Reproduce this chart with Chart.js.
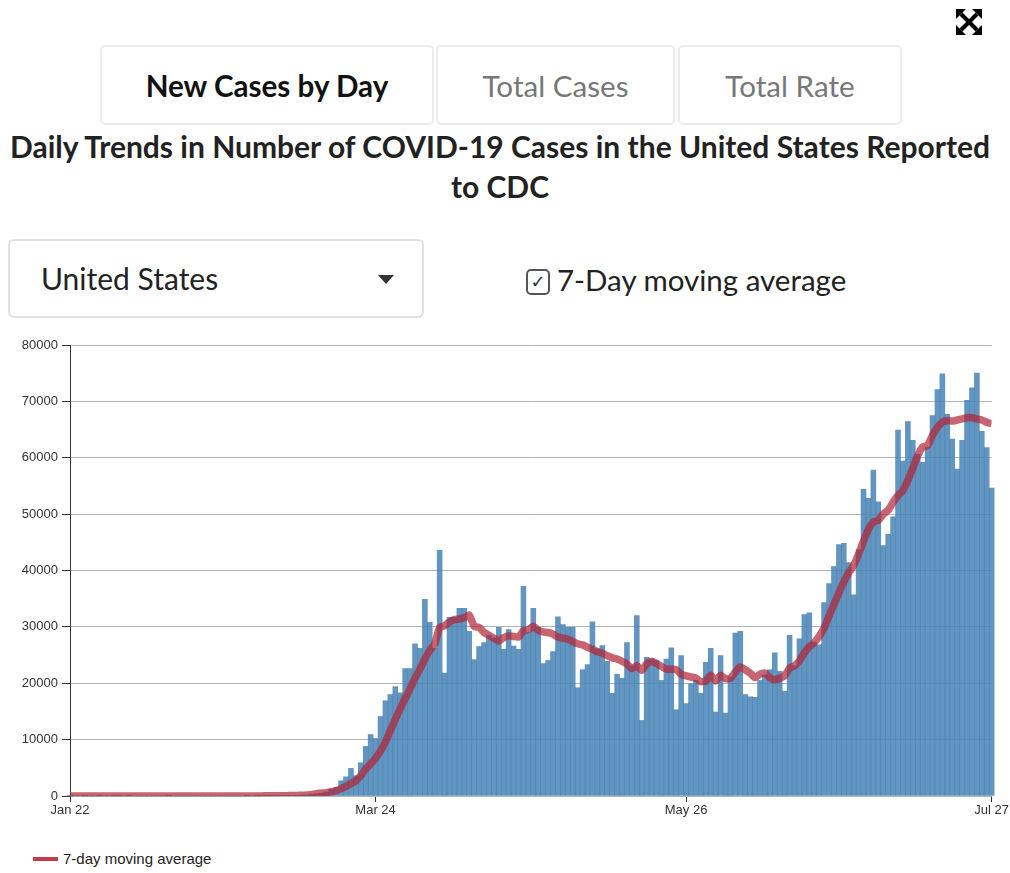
<!DOCTYPE html>
<html>
<head>
<meta charset="utf-8">
<script src="https://cdn.jsdelivr.net/npm/chart.js@4.4.1/dist/chart.umd.min.js"></script>
<style>
  body { margin: 0; width: 1010px; height: 873px; background: #fff; font-family: Lato, sans-serif; position: relative; overflow: hidden; }
  .tab { position: absolute; top: 45px; height: 76px; border: 2px solid #ececec; border-radius: 5px; box-sizing: content-box;
         display: flex; align-items: center; justify-content: center; font-size: 29.6px; color: #777; }
  .tab.on { color: #111; font-weight: bold; }
  #title { position: absolute; left: 0; top: 126px; width: 1000px; text-align: center; font-weight: bold; font-size: 30px; line-height: 40px; color: #222; }
  #sel { position: absolute; left: 8px; top: 239px; width: 412px; height: 75px; border: 2px solid #e0e0e0; border-radius: 6px; }
  #sel span { position: absolute; left: 31px; top: 19px; font-size: 30px; color: #222; }
  #caret { position: absolute; left: 368px; top: 34px; width: 0; height: 0; border-left: 8px solid transparent; border-right: 8px solid transparent; border-top: 9px solid #333; }
  #chk { position: absolute; left: 526px; top: 269px; width: 20px; height: 22px; border: 2px solid #555; border-radius: 5px;
         font-family: "DejaVu Sans"; font-size: 18px; font-weight: bold; line-height: 22px; text-align: center; color: #333; }
  #chklabel { position: absolute; left: 557px; top: 262px; font-size: 29.5px; color: #222; }
  #wrap { position: absolute; left: 0; top: 330px; width: 1010px; height: 500px; }
  #legend { position: absolute; left: 33px; top: 850px; font-family: "Liberation Sans", Arial, sans-serif; font-size: 15px; color: #222; }
  #legend i { display: inline-block; width: 25px; height: 4px; background: #bf4048; vertical-align: middle; margin-right: 5px; position: relative; top: -1px; }
  #expand { position: absolute; left: 954px; top: 7px; }
</style>
</head>
<body>
<svg id="expand" width="30" height="30" viewBox="0 0 30 30">
  <g stroke="#000" stroke-width="4" fill="none">
    <line x1="7" y1="7" x2="23" y2="23"/>
    <line x1="23" y1="7" x2="7" y2="23"/>
  </g>
  <g fill="#000">
    <polygon points="2,2 12,2 2,12"/>
    <polygon points="28,2 18,2 28,12"/>
    <polygon points="2,28 12,28 2,18"/>
    <polygon points="28,28 18,28 28,18"/>
  </g>
</svg>
<div class="tab on" style="left:100px;width:330px;">New Cases by Day</div>
<div class="tab" style="left:436px;width:235px;">Total Cases</div>
<div class="tab" style="left:678px;width:220px;">Total Rate</div>
<div id="title">Daily Trends in Number of COVID-19 Cases in the United States Reported<br>to CDC</div>
<div id="sel"><span>United States</span><div id="caret"></div></div>
<div id="chk">✓</div>
<div id="chklabel">7-Day moving average</div>
<div id="wrap"><canvas id="chart"></canvas></div>
<div id="legend"><i></i>7-day moving average</div>
<script>
// day 0 = Jan 22, day 187 = Jul 27
var tickDays = [0, 62, 125, 187];
var tickLabels = ['Jan 22', 'Mar 24', 'May 26', 'Jul 27'];

var newCases = [
  1,0,0,1,0,0,3,0,0,1,
  2,0,1,0,0,0,0,0,0,0,
  1,0,0,0,0,0,0,0,0,0,
  0,0,0,0,0,0,1,0,3,20,
  25,30,40,50,60,90,120,150,200,300,
  400,500,700,1200,1500,2700,3400,4900,3600,5900,
  8800,10900,10200,14100,16900,18000,19400,18300,22600,22600,
  27000,26200,34900,30800,26200,43600,21800,31700,31700,33300,
  33300,29200,24200,26500,27200,28500,28000,29900,26000,29500,
  26600,26000,37200,29000,33300,29900,23500,24000,25600,31800,
  30400,29900,29900,19200,22400,23300,30900,26100,26700,23900,
  18200,21600,20900,27200,23100,32000,13400,24600,24300,24000,
  20500,24300,26300,15300,24900,16400,19900,20500,18200,23700,
  26200,14900,24900,14700,21100,28900,29200,18000,17600,17500,
  20500,21500,22400,25400,22100,18600,28500,23100,27900,32200,
  32500,27300,26800,34300,37700,40700,44600,44800,41400,35700,
  43700,54400,52800,57800,52200,44400,46400,49500,64900,59400,
  66400,63100,60600,59200,61900,67500,72100,74900,67700,63300,
  58000,63100,70200,72400,75000,64700,61800,54600
];

var movingAvg = [
  0,0,0,0,0,1,1,1,1,1,
  1,1,1,1,1,0,0,0,0,0,
  0,0,0,0,0,0,0,0,0,0,
  0,0,0,0,0,0,0,1,1,20,
  30,30,40,50,60,80,100,130,170,220,
  400,500,600,750,950,1300,1700,2200,2700,3600,
  4800,5700,6700,8000,9600,11600,13600,15500,17300,19000,
  20900,22500,24300,25800,27000,29900,30200,30900,31300,31400,
  31600,32100,30100,29900,29000,28500,28000,27500,28100,28400,
  28300,28200,29300,29500,30100,29400,29100,29000,28700,28200,
  28000,27800,27400,27000,26800,26400,26000,25600,25300,24900,
  24500,24300,23900,23400,22600,23100,22300,23400,23900,23500,
  23000,22500,22500,22400,21600,21300,21100,20900,20300,20400,
  21400,20400,21400,20800,20900,22000,22900,22400,21800,21000,
  21600,21800,21000,20600,20900,21300,22700,23100,24000,25400,
  26500,27200,28300,29800,31900,34000,36000,38000,39600,40900,
  42900,45200,47300,48600,48900,50000,50700,52100,53300,54200,
  56000,58100,60400,61900,62200,64000,65400,66300,66600,66500,
  66700,66900,67100,67100,66900,66700,66300,66000
];

var axisFont = { family: '"Liberation Sans", Arial, sans-serif', size: 13 };

var ctx = document.getElementById('chart').getContext('2d');
new Chart(ctx, {
  type: 'bar',
  data: {
    datasets: [{
      type: 'line',
      label: '7-day moving average',
      data: movingAvg.map(function(v, i) { return { x: i, y: v }; }),
      borderColor: 'rgba(178,34,52,0.7)',
      borderWidth: 7.5,
      pointRadius: 0,
      tension: 0.2,
      order: 0
    }, {
      type: 'bar',
      label: 'New cases',
      data: newCases.map(function(v, i) { return { x: i, y: v }; }),
      backgroundColor: 'rgba(70,130,180,0.85)',
      barPercentage: 1,
      categoryPercentage: 1,
      clip: false,
      order: 1
    }]
  },
  options: {
    responsive: true,
    maintainAspectRatio: false,
    animation: false,
    layout: { padding: { left: 0, right: 17, top: 15, bottom: 0 } },
    plugins: { legend: { display: false }, tooltip: { enabled: false } },
    scales: {
      x: {
        type: 'linear',
        min: 0,
        max: 187,
        offset: false,
        afterBuildTicks: function(scale) {
          scale.ticks = tickDays.map(function(d) { return { value: d }; });
        },
        afterFit: function(scale) { scale.height = 34; },
        ticks: {
          autoSkip: false,
          maxRotation: 0,
          color: '#333',
          font: axisFont,
          padding: 1,
          callback: function(v) { return tickLabels[tickDays.indexOf(v)]; }
        },
        grid: { offset: false, drawOnChartArea: false, drawTicks: true, tickLength: 6, tickColor: '#333' },
        border: { display: false }
      },
      y: {
        min: 0,
        max: 80000,
        afterFit: function(scale) { scale.width = 70; },
        ticks: { stepSize: 10000, color: '#333', font: axisFont, padding: 4,
                 callback: function(v) { return String(v); } },
        grid: { color: '#b4b4b4', tickColor: '#333', tickLength: 8 },
        border: { color: '#333', width: 1 }
      }
    }
  }
});
</script>
</body>
</html>
